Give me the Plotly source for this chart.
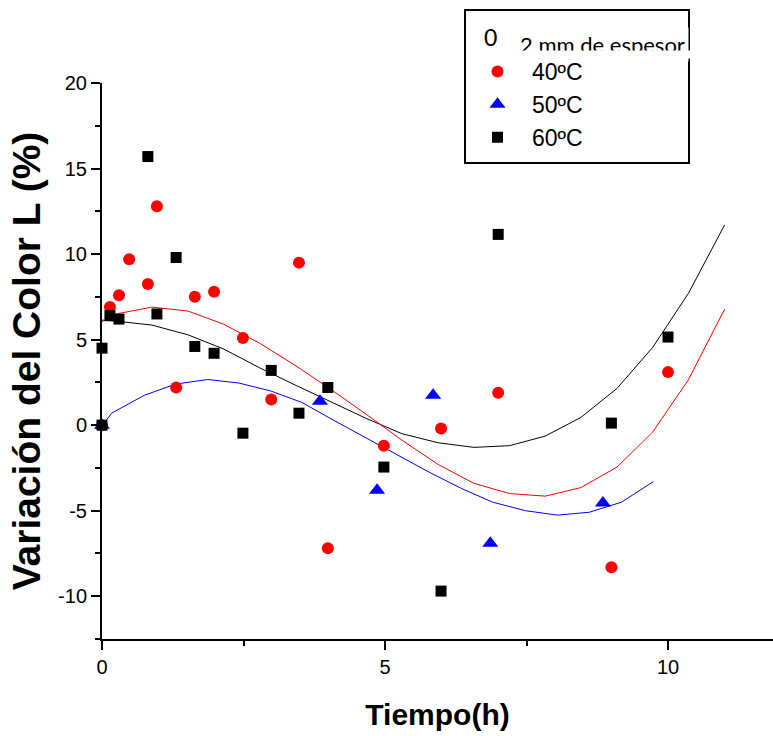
import plotly.graph_objects as go

# ---------------- data ----------------
x_40 = [0, 0.14, 0.30, 0.48, 0.81, 0.97, 1.31, 1.64, 1.98, 2.49, 2.99, 3.48, 3.99, 4.98, 5.99, 7.0, 9.0, 10.0]
y_40 = [0, 6.9, 7.6, 9.7, 8.25, 12.8, 2.2, 7.5, 7.8, 5.1, 1.5, 9.5, -7.2, -1.2, -0.2, 1.9, -8.3, 3.1]

x_50 = [0, 3.85, 4.86, 5.85, 6.86, 8.85]
y_50 = [0, 1.4, -3.8, 1.75, -6.9, -4.55]

x_60 = [0, 0, 0.14, 0.30, 0.81, 0.97, 1.31, 1.64, 1.98, 2.49, 2.99, 3.48, 3.99, 4.98, 5.99, 7.0, 9.0, 10.0]
y_60 = [0, 4.5, 6.4, 6.2, 15.7, 6.5, 9.8, 4.6, 4.2, -0.47, 3.2, 0.7, 2.2, -2.45, -9.7, 11.15, 0.12, 5.15]

# fitted curves (polyline vertices)
fit_x_4060 = [0, 0.25, 0.88, 1.52, 2.15, 2.78, 3.41, 4.04, 4.67, 5.30, 5.94, 6.57, 7.20, 7.83, 8.46, 9.10, 9.73, 10.36, 11.0]
fit_y_40 = [6.05, 6.5, 6.9, 6.67, 5.9, 4.8, 3.5, 2.1, 0.63, -0.88, -2.3, -3.4, -4.0, -4.15, -3.65, -2.45, -0.4, 2.65, 6.78]
fit_y_60 = [6.14, 6.08, 5.85, 5.28, 4.45, 3.36, 2.35, 1.36, 0.39, -0.5, -1.03, -1.3, -1.2, -0.64, 0.45, 2.15, 4.55, 7.7, 11.7]

fit_x_50 = [0, 0.17, 0.75, 1.30, 1.87, 2.42, 2.98, 3.53, 4.09, 4.65, 5.22, 5.78, 6.35, 6.90, 7.48, 8.05, 8.61, 9.18, 9.74]
fit_y_50 = [-0.05, 0.7, 1.75, 2.4, 2.67, 2.46, 2.0, 1.33, 0.29, -0.72, -1.74, -2.75, -3.7, -4.5, -5.0, -5.26, -5.09, -4.5, -3.3]

names = ["40ºC", "50ºC", "60ºC"]
colors = ["#FF0000", "#0000FF", "#000000"]
x_ticks = [0, 5, 10]
y_ticks = [-10, -5, 0, 5, 10, 15, 20]

# ---------------- geometry ----------------
W, H = 773, 736
L, R, T, B = 102, 0, 83, 97
PW, PH = W - L - R, H - T - B


def px(xp):
    return (xp - L) / PW


def py(yp):
    return (H - B - yp) / PH


fig = go.Figure()

# fitted curves
for fx, fy, c in [(fit_x_4060, fit_y_60, colors[2]), (fit_x_4060, fit_y_40, colors[0]), (fit_x_50, fit_y_50, colors[1])]:
    fig.add_trace(go.Scatter(x=fx, y=fy, mode="lines", line=dict(color=c, width=1),
                             showlegend=False, hoverinfo="skip", cliponaxis=False))

# data points
fig.add_trace(go.Scatter(x=x_40, y=y_40, mode="markers", name=names[0],
                         marker=dict(symbol="circle", size=12, color=colors[0]), cliponaxis=False))
fig.add_trace(go.Scatter(x=x_50, y=y_50, mode="markers", name=names[1],
                         marker=dict(symbol="triangle-up", size=14, color=colors[1]), cliponaxis=False))
fig.add_trace(go.Scatter(x=x_60, y=y_60, mode="markers", name=names[2],
                         marker=dict(symbol="square", size=11, color=colors[2]), cliponaxis=False))

axis_common = dict(showgrid=False, zeroline=False, showline=True, linecolor="black", linewidth=2,
                   ticks="outside", ticklen=9, tickwidth=2, tickcolor="black",
                   tickfont=dict(family="Liberation Sans, Arial", size=20, color="black"))

fig.update_xaxes(range=[0, PW / 56.6], tickvals=x_ticks, ticktext=[str(v) for v in x_ticks],
                 minor=dict(dtick=2.5, tick0=0, ticks="outside", ticklen=5, tickwidth=2, tickcolor="black"),
                 title=dict(text="<b>Tiempo(h)</b>", font=dict(family="Liberation Sans, Arial", size=30, color="black"),
                            standoff=27),
                 **axis_common)
fig.update_yaxes(range=[-12.5, 20], tickvals=y_ticks, ticktext=[str(v) for v in y_ticks],
                 minor=dict(dtick=2.5, tick0=0, ticks="outside", ticklen=5, tickwidth=2, tickcolor="black"),
                 title=dict(text="<b>Variación del Color L (%)</b>",
                            font=dict(family="Liberation Sans, Arial", size=39, color="black"), standoff=5),
                 **axis_common)

# legend box
fig.add_shape(type="rect", xref="paper", yref="paper", x0=px(465), x1=px(689), y0=py(163), y1=py(10),
              line=dict(color="black", width=2), fillcolor="white", layer="below")

fig.update_layout(
    width=W, height=H, margin=dict(l=L, r=R, t=T, b=B, autoexpand=False),
    paper_bgcolor="white", plot_bgcolor="white",
    showlegend=True,
    legend=dict(x=px(463), y=py(50), xanchor="left", yanchor="top", bgcolor="rgba(0,0,0,0)",
                borderwidth=0, font=dict(family="Liberation Sans, Arial", size=23, color="black"),
                itemwidth=59, tracegroupgap=0),
    annotations=[
        dict(text="0", xref="paper", yref="paper", x=px(490), y=py(37), showarrow=False,
             font=dict(family="Lato", size=23, color="black"), xanchor="center", yanchor="middle"),
        dict(text="2 mm de espesor", xref="paper", yref="paper", x=px(516), y=py(45), showarrow=False,
             font=dict(family="Lato", size=22, color="black"), xanchor="left", yanchor="middle",
             bgcolor="white", borderpad=3),
        dict(text=" ", xref="paper", yref="paper", x=px(514), y=py(50), showarrow=False,
             xanchor="left", yanchor="top", width=180, height=7, bgcolor="white", borderpad=0),
    ],
)

fig.write_html("out.html")
